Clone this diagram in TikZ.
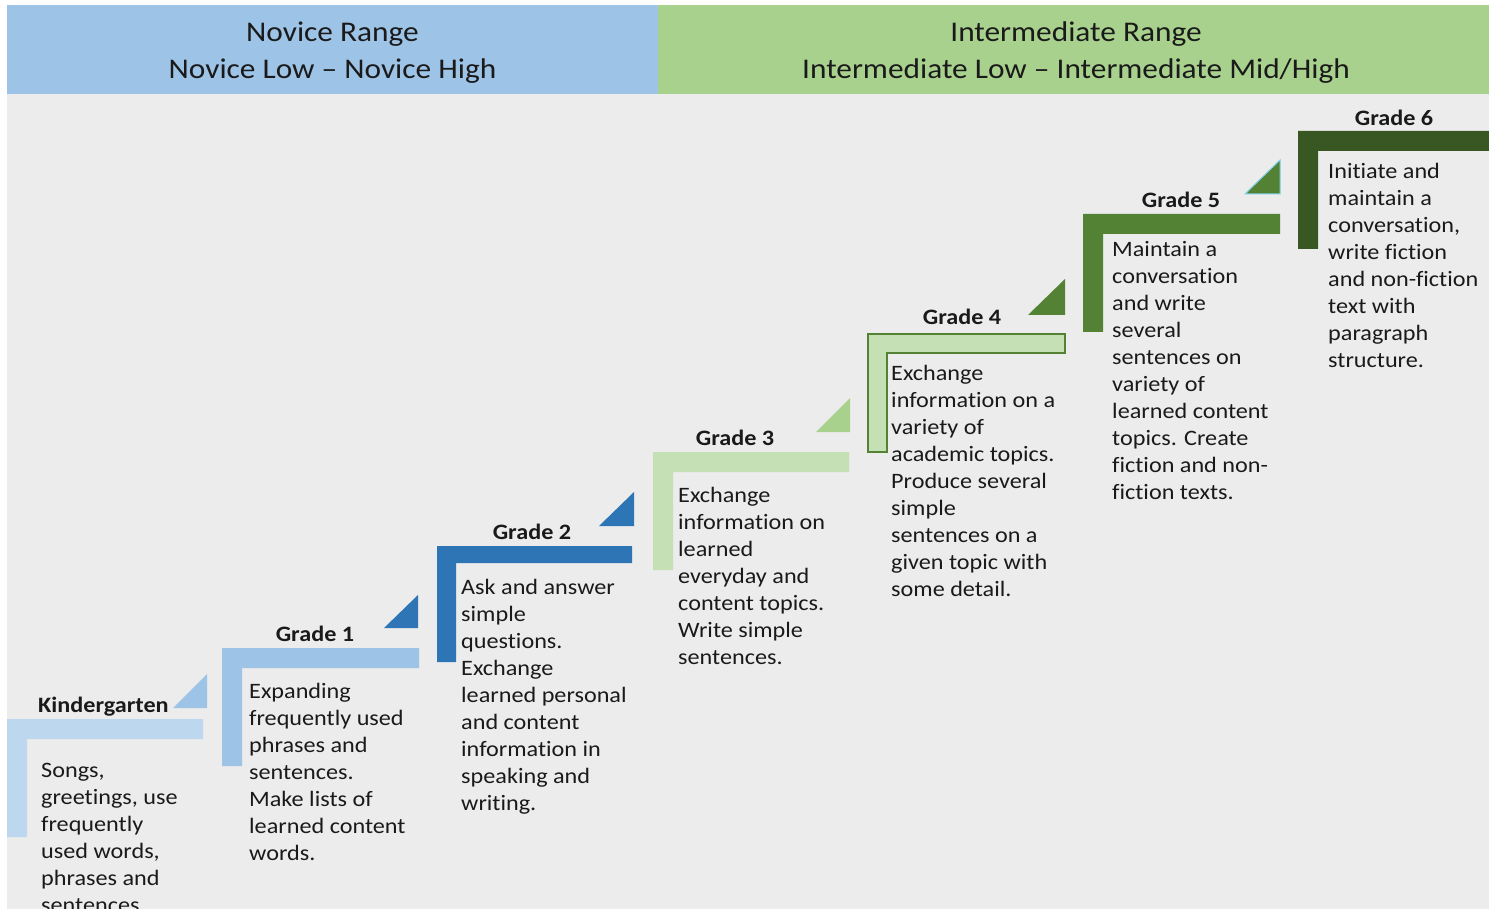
\documentclass[tikz,border=0pt]{standalone}
\usepackage{fontspec}
\setmainfont{Carlito}[FakeStretch=1.1, Ligatures=NoCommon]
\definecolor{bgc}{HTML}{ECECEC}
\definecolor{hblue}{HTML}{9DC3E6}
\definecolor{hgreen}{HTML}{A9D18E}
\definecolor{kblue}{HTML}{BDD7EE}
\definecolor{mblue}{HTML}{9DC3E6}
\definecolor{dblue}{HTML}{2E75B6}
\definecolor{lgreen}{HTML}{C5E0B4}
\definecolor{mgreen}{HTML}{A9D18E}
\definecolor{dgreen}{HTML}{548235}
\definecolor{ddgreen}{HTML}{385723}
\definecolor{txt}{HTML}{1A1A1A}
\tikzset{
  bodytext/.style={anchor=base west, inner sep=0pt, text=txt},
  titletext/.style={anchor=base, inner sep=0pt, text=txt, font=\fontsize{22}{27}\selectfont\bfseries},
  headtext/.style={anchor=base, inner sep=0pt, text=txt},
}
\newcommand{\bodybox}[1]{\parbox[t]{230pt}{\raggedright\fontsize{22}{27}\selectfont #1}}
\newcommand{\headbox}[1]{\parbox[t]{800pt}{\centering\fontsize{28.5}{37}\selectfont #1}}
% L shape: x0,y0,x1,y2,h,w
\newcommand{\stepL}[7]{\fill[#7] (#1,#2) -- (#3,#2) -- (#3,#2+#5) -- (#1+#6,#2+#5) -- (#1+#6,#4) -- (#1,#4) -- cycle;}
\begin{document}
\begin{tikzpicture}[x=1pt,y=-1pt]
\useasboundingbox (0,0) rectangle (1489,909);
\clip (0,0) rectangle (1489,909);
\fill[white] (0,0) rectangle (1489,909);
\fill[bgc] (7,5) rectangle (1489,909);
% header
\fill[hblue] (7,5) rectangle (658,94);
\fill[hgreen] (658,5) rectangle (1489,94);
\node[headtext] (hnov) at (332.5,42) {\headbox{Novice Range\\Novice Low – Novice High}};
\node[headtext] (hint) at (1076,42) {\headbox{Intermediate Range\\Intermediate Low – Intermediate Mid/High}};
% L shapes
\stepL{7}{719}{203}{837}{20}{20}{kblue}
\stepL{222}{648}{419}{766}{20}{20}{mblue}
\stepL{437}{546}{632}{662}{17}{19}{dblue}
\stepL{653}{452}{849}{570}{20}{20}{lgreen}
\fill[lgreen, draw=dgreen, line width=1.2pt] (868,334) -- (1065,334) -- (1065,353) -- (887,353) -- (887,452) -- (868,452) -- cycle;
\stepL{1083}{214}{1280}{332}{20}{20}{dgreen}
\stepL{1298}{131}{1495}{249}{20}{20}{ddgreen}
% triangles
\fill[mblue] (173,708) -- (207,674) -- (207,708) -- cycle;
\fill[dblue] (384,628) -- (418,595) -- (418,628) -- cycle;
\fill[dblue] (599,526) -- (634,492) -- (634,526) -- cycle;
\fill[mgreen] (816,432) -- (850,398) -- (850,432) -- cycle;
\fill[dgreen] (1028,315) -- (1065,279) -- (1065,315) -- cycle;
\fill[dgreen, draw=hblue!80!cyan, line width=1pt] (1245,194) -- (1280,160) -- (1280,194) -- cycle;
% titles
\node[titletext, anchor=base west] (tk) at (38,712) {Kindergarten};
\node[titletext] (t1) at (315,641) {Grade 1};
\node[titletext] (t2) at (532,539) {Grade 2};
\node[titletext] (t3) at (735,445) {Grade 3};
\node[titletext] (t4) at (962,325) {Grade 4};
\node[titletext] (t5) at (1181,208) {Grade 5};
\node[titletext] (t6) at (1394,126) {Grade 6};
% bodies
\node[bodytext] (bk) at (41,777) {\bodybox{Songs,\\greetings, use\\frequently\\used words,\\phrases and\\sentences.}};
\node[bodytext] (b1) at (249,698) {\bodybox{Expanding\\frequently used\\phrases and\\sentences.\\Make lists of\\learned content\\words.}};
\node[bodytext] (b2) at (461,594) {\bodybox{Ask and answer\\simple\\questions.\\Exchange\\learned personal\\and content\\information in\\speaking and\\writing.}};
\node[bodytext] (b3) at (678,502) {\bodybox{Exchange\\information on\\learned\\everyday and\\content topics.\\Write simple\\sentences.}};
\node[bodytext] (b4) at (891,381) {\bodybox{Exchange\\information on a\\variety of\\academic topics.\\Produce several\\simple\\sentences on a\\given topic with\\some detail.}};
\node[bodytext] (b5) at (1112,257) {\bodybox{Maintain a\\conversation\\and write\\several\\sentences on\\variety of\\learned content\\topics. Create\\fiction and non-\\fiction texts.}};
\node[bodytext] (b6) at (1328,179) {\bodybox{Initiate and\\maintain a\\conversation,\\write fiction\\and non-fiction\\text with\\paragraph\\structure.}};
\end{tikzpicture}
\end{document}
